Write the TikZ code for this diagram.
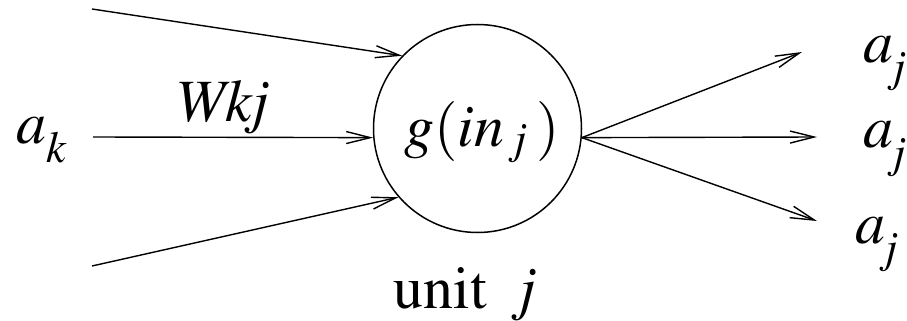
\documentclass[tikz,border=0pt]{standalone}
\usepackage{mathptmx}
\usetikzlibrary{arrows.meta}
% variable with a lowered subscript
\newcommand{\subvar}[3][0.32em]{$\mathit{#2}$\raisebox{-#1}{$\scriptstyle\mathit{#3}$}}

\begin{document}
\begin{tikzpicture}[x=0.5pt, y=-0.5pt,
        neuron/.style={circle, draw, line width=0.75pt, minimum size=104pt, inner sep=0pt},
        link/.style={-{Straight Barb[length=12pt, width=6pt]}, line width=0.7pt},
        lbl/.style={anchor=base west, inner sep=0pt, font=\fontsize{30}{36}\selectfont},
    ]
        \useasboundingbox (0,0) rectangle (907,321);
        \node[neuron] (unit) at (477.5,128.5) {};

        % free ends of the connectors
        \coordinate (in1) at (92,9);
        \coordinate (in2) at (93,137);
        \coordinate (in3) at (92,266);
        \coordinate (out1) at (802,52);
        \coordinate (out2) at (817,137);
        \coordinate (out3) at (817,221);

        \draw[link] (in1) -- (unit.136);
        \draw[link] (in2) -- (unit.185);
        \draw[link] (in3) -- (unit.221);
        \foreach \o in {1,2,3}
            \draw[link] (unit.-5) -- (out\o);

        \node[lbl] (ak) at (16,143) {\subvar{a}{k}};
        \node[lbl] (wkj) at (175,121) {$\mathit{Wkj}$};
        \node[lbl] (gin) at (404,147) {$\mathit{g}(\mathit{in}$\,\raisebox{-0.1em}{$\scriptstyle\mathit{j}$}\,$)$};
        \node[lbl] (aj1) at (863,62) {\subvar{a}{j}};
        \node[lbl] (aj2) at (863,148) {\subvar{a}{j}};
        \node[lbl] (aj3) at (855,243) {\subvar{a}{j}};
        \node[lbl] (name) at (393,308) {$\mathrm{unit}$\hspace{0.55em}$\mathit{j}$};
    \end{tikzpicture}
\end{document}
